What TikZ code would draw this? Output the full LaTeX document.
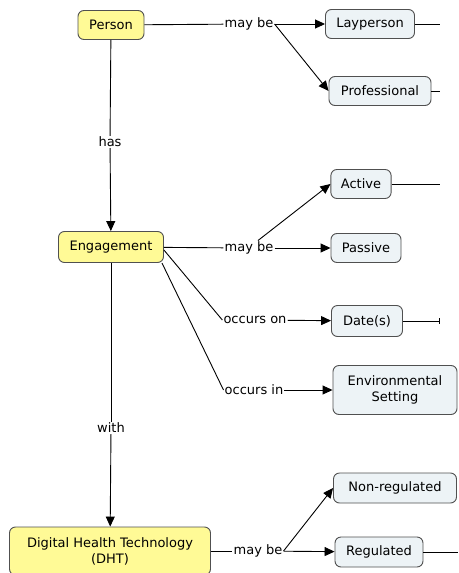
\documentclass[tikz,border=0pt]{standalone}
\usepackage{fontspec}
\setmainfont{DejaVu Sans}
\usetikzlibrary{arrows.meta,positioning}
\usepackage{xcolor}
\definecolor{conceptfill}{HTML}{EDF3F6}
\definecolor{keyfill}{HTML}{FFFA96}
\definecolor{edge}{HTML}{505050}

\begin{document}
\begin{tikzpicture}[x=1pt, y=-1pt,
  box/.style={rectangle, draw=edge, line width=0.9pt, fill=#1, minimum height=29pt, inner xsep=10pt, align=center,
    font=\fontsize{13}{16}\selectfont, rounded corners=6pt},
  lbl/.style={inner sep=1pt, font=\fontsize{13}{16}\selectfont},
  arr/.style={-{Triangle[length=10pt,width=9pt]}, black, line width=0.9pt},
  ln/.style={black, line width=0.9pt}
]
  \useasboundingbox (0,0) rectangle (458,573);

  % concepts
  \node[box=keyfill, minimum width=66pt] (person) at (111,25) {Person};
  \node[box=conceptfill, minimum width=89pt] (lay) at (370,24) {Layperson};
  \node[box=conceptfill, minimum width=102pt] (prof) at (380,91) {Professional};
  \node[box=keyfill, minimum width=105pt, minimum height=31pt] (eng) at (111,247) {Engagement};
  \node[box=conceptfill, minimum width=60pt] (active) at (361,184) {Active};
  \node[box=conceptfill, minimum width=70pt] (passive) at (366,248) {Passive};
  \node[box=conceptfill, minimum width=71pt, minimum height=31pt] (date) at (367,321) {Date(s)};
  \node[box=conceptfill, minimum width=124pt, minimum height=49pt] (env) at (395,390) {Environmental\\Setting};
  \node[box=keyfill, minimum width=201pt, minimum height=48pt] (dht) at (110,551) {Digital Health Technology\\(DHT)};
  \node[box=conceptfill, minimum width=123pt, minimum height=30pt] (nonreg) at (395,488) {Non-regulated};
  \node[box=conceptfill, minimum width=88pt, minimum height=30pt] (reg) at (379,552) {Regulated};

  % linking phrases
  \node[lbl] (maybeA) at (249,24) {may be};
  \node[lbl] (has) at (110,142) {has};
  \node[lbl] (maybeB) at (249,248) {may be};
  \node[lbl] (occon) at (255,320) {occurs on};
  \node[lbl] (occin) at (254,390) {occurs in};
  \node[lbl] (with) at (111,428) {with};
  \node[lbl] (maybeC) at (258,551) {may be};

  % loose ends leaving the picture
  \coordinate (layend) at (440,24);
  \coordinate (profend) at (440,91);
  \coordinate (activeend) at (440,184);
  \coordinate (dateend) at (439,321);
  \coordinate (regend) at (458,552);

  \draw[ln] (person) -- (maybeA);
  \draw[arr] (maybeA) -- (lay);
  \draw[arr] (maybeA.east) -- (prof.west);
  \draw[ln] (person) -- (has);
  \draw[arr] (has) -- (eng);

  \draw[ln] (eng) -- (maybeB);
  \draw[arr] (maybeB) -- (passive);
  \draw[arr] ([xshift=9pt]maybeB.north) -- (active.west);
  \draw[ln] ([yshift=-3pt]eng.east) -- (occon.west);
  \draw[ln] ([xshift=-2pt]eng.south east) -- (occin.west);
  \draw[arr] (occon) -- (date);
  \draw[arr] (occin) -- (env);
  \draw[ln] (eng) -- (with);
  \draw[arr] (with) -- (dht);

  \draw[ln] (dht) -- (maybeC);
  \draw[arr] (maybeC) -- (reg);
  \draw[arr] (maybeC.east) -- (nonreg.west);

  \draw[ln] (lay) -- (layend);
  \draw[ln] (prof) -- (profend);
  \draw[ln] (active) -- (activeend);
  \draw[ln] (date) -- (dateend);
  \draw[ln] ([yshift=3pt]dateend) -- ([yshift=-3pt]dateend);
  \draw[ln] (reg) -- (regend);
\end{tikzpicture}
\end{document}
